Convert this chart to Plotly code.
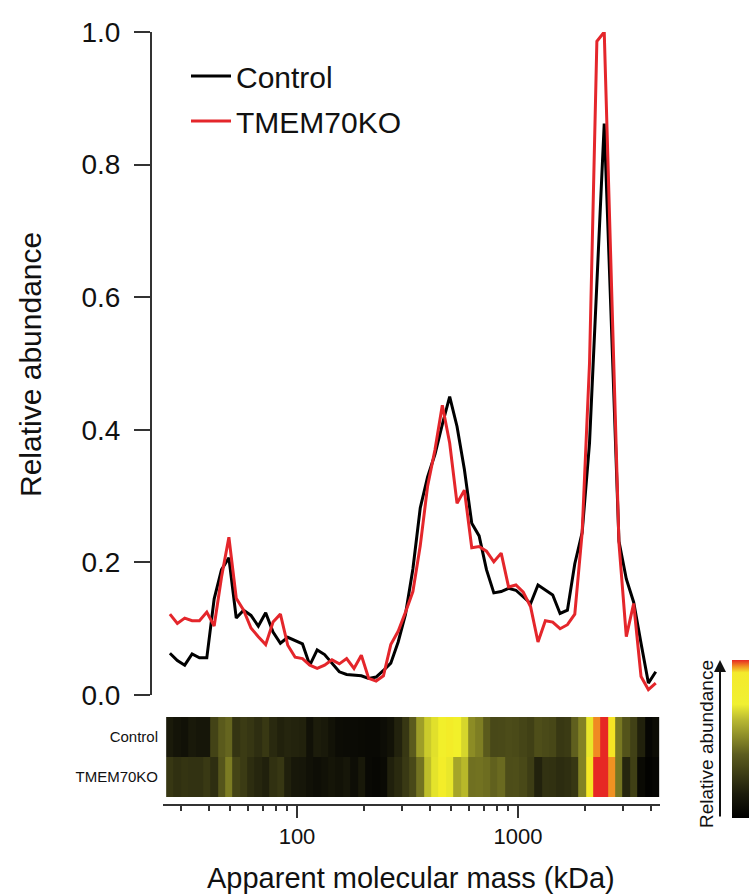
import math
import plotly.graph_objects as go

# ---------------- data ----------------
mass_kda = [26.6, 28.75, 31.04, 33.52, 36.19, 39.07, 42.19, 45.55, 49.18, 53.10,
            57.33, 61.90, 66.83, 72.16, 77.91, 84.12, 90.83, 98.07, 105.9, 114.3,
            123.4, 133.3, 143.9, 155.4, 167.7, 181.1, 195.5, 211.1, 228.0, 246.1,
            265.7, 286.9, 309.8, 334.5, 361.1, 389.9, 421.0, 454.5, 490.7, 529.8,
            572.1, 617.6, 666.9, 720.0, 777.4, 839.4, 906.3, 978.5, 1056.5, 1140.7,
            1231.6, 1329.7, 1435.7, 1550.1, 1673.6, 1807.0, 1951.0, 2106.5, 2274.4, 2455.7,
            2651.4, 2862.7, 3090.9, 3337.2, 3603.2, 3890.4, 4200.5]

control = [0.063, 0.052, 0.045, 0.062, 0.056, 0.056, 0.145, 0.189, 0.207, 0.116,
           0.128, 0.120, 0.104, 0.124, 0.095, 0.078, 0.087, 0.082, 0.077, 0.045,
           0.068, 0.061, 0.048, 0.035, 0.031, 0.030, 0.029, 0.025, 0.027, 0.037,
           0.048, 0.080, 0.122, 0.190, 0.282, 0.329, 0.363, 0.408, 0.450, 0.405,
           0.340, 0.259, 0.240, 0.189, 0.154, 0.156, 0.161, 0.158, 0.148, 0.138,
           0.166, 0.158, 0.151, 0.123, 0.128, 0.198, 0.245, 0.380, 0.620, 0.862,
           0.550, 0.232, 0.175, 0.140, 0.078, 0.018, 0.035]

tmem70ko = [0.122, 0.108, 0.116, 0.112, 0.112, 0.125, 0.104, 0.178, 0.238, 0.146,
            0.128, 0.101, 0.088, 0.076, 0.110, 0.122, 0.075, 0.057, 0.055, 0.045,
            0.040, 0.045, 0.053, 0.047, 0.055, 0.040, 0.060, 0.025, 0.021, 0.029,
            0.076, 0.096, 0.125, 0.156, 0.225, 0.315, 0.370, 0.437, 0.380, 0.289,
            0.309, 0.222, 0.224, 0.217, 0.201, 0.214, 0.163, 0.166, 0.155, 0.133,
            0.080, 0.112, 0.110, 0.100, 0.106, 0.122, 0.245, 0.500, 0.986, 1.000,
            0.614, 0.229, 0.088, 0.138, 0.028, 0.008, 0.018]

series_names = ["Control", "TMEM70KO"]
x_tickvals = [100, 1000]
x_ticktext = ["100", "1000"]
x_minor_vals = [30, 40, 50, 60, 70, 80, 90, 200, 300, 400, 500, 600, 700, 800, 900,
                2000, 3000, 4000]
y_tickvals = [0.0, 0.2, 0.4, 0.6, 0.8, 1.0]
y_ticktext = ["0.0", "0.2", "0.4", "0.6", "0.8", "1.0"]

# ---------------- layout geometry (window pixels) ----------------
W_FIG, H_FIG = 749, 896
ML, MR, MT, MB = 151, 89, 32, 91
PW = W_FIG - ML - MR
PH = H_FIG - MT - MB


def px(x):
    return (x - ML) / PW


def py(y):
    return (H_FIG - MB - y) / PH


FONT = "Liberation Sans, Arial, Helvetica, sans-serif"
AX = "#333333"
RED = "#e4262b"

xr = [2 + (163 - 297) / 221.0, 2 + (660 - 297) / 221.0]
xdom = [px(163), 1.0]

# heatmap cell edges (geometric midpoints between slices)
edges = [mass_kda[0] * math.sqrt(mass_kda[0] / mass_kda[1])]
for a, b in zip(mass_kda[:-1], mass_kda[1:]):
    edges.append(math.sqrt(a * b))
edges.append(mass_kda[-1] * math.sqrt(mass_kda[-1] / mass_kda[-2]))

heat_scale = [
    [0.00, "#000000"],
    [0.04, "#0e0e06"],
    [0.10, "#2c2c10"],
    [0.20, "#60601e"],
    [0.28, "#9c9c28"],
    [0.34, "#d6d62c"],
    [0.40, "#f2f02a"],
    [0.55, "#f6e424"],
    [0.62, "#f08a22"],
    [0.75, "#ec4a22"],
    [0.85, "#e62824"],
    [1.00, "#e62824"],
]

cbar_scale = [
    [0.00, "#000000"],
    [0.15, "#1c1c0c"],
    [0.40, "#5c5c1e"],
    [0.62, "#b8b832"],
    [0.72, "#f0f032"],
    [0.92, "#f4ea2c"],
    [0.96, "#f09022"],
    [1.00, "#e62824"],
]

fig = go.Figure()

fig.add_trace(go.Scatter(
    x=mass_kda, y=control, name=series_names[0], mode="lines",
    line=dict(color="#000000", width=3), cliponaxis=False,
    legendgroup="a", xaxis="x", yaxis="y"))
fig.add_trace(go.Scatter(
    x=mass_kda, y=tmem70ko, name=series_names[1], mode="lines",
    line=dict(color=RED, width=3), cliponaxis=False,
    legendgroup="b", xaxis="x", yaxis="y"))

fig.add_trace(go.Heatmap(
    x=edges, y=series_names, z=[control, tmem70ko],
    colorscale=heat_scale, zmin=0, zmax=1, showscale=False,
    xaxis="x2", yaxis="y2", hoverinfo="skip"))

# colour key (schematic relative-abundance scale)
fig.add_trace(go.Scatter(
    x=[None], y=[None], mode="markers", showlegend=False, hoverinfo="skip",
    marker=dict(color=[0], cmin=0, cmax=1, colorscale=cbar_scale, showscale=True,
                colorbar=dict(x=px(732), xanchor="left", y=py(660), yanchor="top",
                              len=158, lenmode="pixels", thickness=30,
                              thicknessmode="pixels", outlinewidth=0,
                              showticklabels=False, ticks="", xpad=0, ypad=0)),
    xaxis="x", yaxis="y"))

fig.update_layout(
    width=W_FIG, height=H_FIG,
    margin=dict(l=ML, r=MR, t=MT, b=MB, autoexpand=False),
    paper_bgcolor="white", plot_bgcolor="white",
    font=dict(family=FONT, color="#111111"),
    showlegend=True,
    legend=dict(x=px(186), y=py(50), xanchor="left", yanchor="top",
                font=dict(size=30, family=FONT, color="#111111"),
                itemwidth=40,
                bgcolor="rgba(0,0,0,0)", traceorder="grouped", tracegroupgap=3),
    xaxis=dict(type="log", range=xr, domain=xdom, anchor="y", visible=False,
               fixedrange=True),
    yaxis=dict(domain=[py(695), py(32)], range=[0, 1], anchor="free", position=0,
               showline=True, linewidth=2, linecolor=AX, showgrid=False, zeroline=False,
               ticks="outside", ticklen=16, tickwidth=2, tickcolor=AX,
               tickvals=y_tickvals, ticktext=y_ticktext,
               tickfont=dict(size=28, family=FONT, color="#111111"),
               ticklabelstandoff=8),
    xaxis2=dict(type="log", range=xr, domain=xdom, anchor="free", position=0,
                showline=True, linewidth=2, linecolor=AX, showgrid=False,
                zeroline=False, ticks="outside", ticklen=12, tickwidth=2,
                tickcolor=AX, tickvals=x_tickvals, ticktext=x_ticktext,
                tickfont=dict(size=22, family=FONT, color="#111111"),
                ticklabelstandoff=0,
                minor=dict(tickmode="array", tickvals=x_minor_vals, ticks="outside",
                           ticklen=5, tickwidth=2, tickcolor=AX, showgrid=False)),
    yaxis2=dict(domain=[py(797), py(717)], anchor="x2", type="category",
                autorange="reversed", showline=False, showgrid=False, zeroline=False,
                ticks="", tickfont=dict(size=15, family=FONT, color="#111111"),
                ticklabelstandoff=4),
)

annotations = [
    dict(text="Relative abundance", x=px(30), y=py(365), xref="paper", yref="paper",
         textangle=-90, showarrow=False, xanchor="center", yanchor="middle",
         font=dict(size=30, family=FONT, color="#111111")),
    dict(text="Apparent molecular mass (kDa)", x=px(411), y=py(878), xref="paper",
         yref="paper", showarrow=False, xanchor="center", yanchor="middle",
         font=dict(size=29, family=FONT, color="#111111")),
    dict(text="Relative abundance", x=px(706), y=py(744), xref="paper", yref="paper",
         textangle=-90, showarrow=False, xanchor="center", yanchor="middle",
         font=dict(size=19, family=FONT, color="#111111")),
    dict(text="", x=px(720), y=py(660), xref="paper", yref="paper", showarrow=True,
         ax=0, ay=158, arrowhead=2, arrowsize=1.2, arrowwidth=2, arrowcolor="#111111"),
]
fig.update_layout(annotations=annotations)

fig.write_html(
    "out.html",
    config={"displayModeBar": False},
    post_script="document.body.style.margin='0px';document.body.style.overflow='hidden';")
